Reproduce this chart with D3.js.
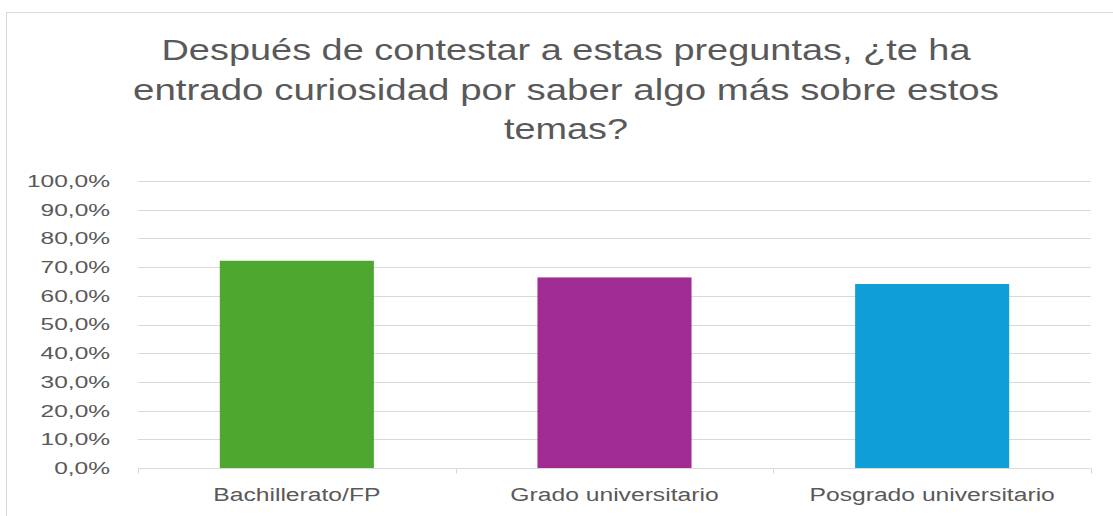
<!DOCTYPE html>
<html>
<head>
<meta charset="utf-8">
<script src="https://cdn.jsdelivr.net/npm/d3@7"></script>
<style>
  html, body { margin: 0; padding: 0; background: #fff; }
  svg text { font-family: "Liberation Sans", Arial, sans-serif; fill: #595959; }
</style>
</head>
<body>
<div id="chart"></div>
<script>
// datos del gráfico
const categories = ["Bachillerato/FP", "Grado universitario", "Posgrado universitario"];
const values = [0.722, 0.664, 0.641];
const barColors = ["#4EA72E", "#A02B93", "#0F9ED5"];
const yTicks = [0, 0.1, 0.2, 0.3, 0.4, 0.5, 0.6, 0.7, 0.8, 0.9, 1.0];
const titleLines = [
  "Después de contestar a estas preguntas, ¿te ha",
  "entrado curiosidad por saber algo más sobre estos",
  "temas?"
];

const W = 1113, H = 516;
const margin = {top: 181, right: 22, bottom: 48, left: 138};
const width = W - margin.left - margin.right,
      height = H - margin.top - margin.bottom;

const svg = d3.select("#chart")
  .append("svg")
    .attr("width", W)
    .attr("height", H);

// marco del área del gráfico (recortado a la derecha y abajo)
svg.append("rect")
  .attr("x", 6.5).attr("y", 12.5)
  .attr("width", W + 20).attr("height", H + 20)
  .attr("fill", "none")
  .attr("stroke", "#d9d9d9");

// estiramiento horizontal del texto, como en la imagen original
function stretch(sel, k) {
  sel.each(function() {
    const w = this.getComputedTextLength();
    d3.select(this).attr("textLength", w * k).attr("lengthAdjust", "spacingAndGlyphs");
  });
}

// título
const titleSizes = [809, 866, 124];
svg.append("g")
  .selectAll("text")
  .data(titleLines)
  .join("text")
    .attr("x", 566)
    .attr("y", (d, i) => 60 + i * 39.5)
    .attr("text-anchor", "middle")
    .style("font-size", "29px")
    .text(d => d)
    .each(function(d, i) {
      d3.select(this).attr("textLength", titleSizes[i]).attr("lengthAdjust", "spacingAndGlyphs");
    });

const g = svg.append("g")
  .attr("transform", `translate(${margin.left},${margin.top})`);

const x = d3.scaleBand()
  .domain(categories)
  .range([0, width])
  .paddingInner(0.515)
  .paddingOuter(0.2575);

const y = d3.scaleLinear()
  .domain([0, 1])
  .range([height, 0]);

const locale = d3.formatLocale({decimal: ",", thousands: ".", grouping: [3], currency: ["", "€"]});
const fmt = locale.format(".1%");

// líneas de división
g.append("g")
  .selectAll("line")
  .data(yTicks.filter(t => t > 0))
  .join("line")
    .attr("x1", 0).attr("x2", width)
    .attr("y1", d => Math.round(y(d)) + 0.5)
    .attr("y2", d => Math.round(y(d)) + 0.5)
    .attr("stroke", "#d9d9d9");

// eje Y (solo etiquetas)
const yAxis = g.append("g")
  .call(d3.axisLeft(y).tickValues(yTicks).tickFormat(fmt).tickSize(0).tickPadding(28));
yAxis.select(".domain").remove();
yAxis.selectAll("text")
  .style("font-size", "17px")
  .attr("fill", "#595959")
  .style("font-family", "Liberation Sans, Arial, sans-serif")
  .call(stretch, 1.44);

// barras
g.append("g")
  .selectAll("rect")
  .data(values)
  .join("rect")
    .attr("x", (d, i) => x(categories[i]))
    .attr("y", d => y(d))
    .attr("width", x.bandwidth())
    .attr("height", d => height - y(d))
    .attr("fill", (d, i) => barColors[i]);

// eje X
const base = Math.round(height) + 0.5;
g.append("line")
  .attr("x1", 0).attr("x2", width)
  .attr("y1", base).attr("y2", base)
  .attr("stroke", "#d9d9d9");

const edges = categories.map(c => x(c) - x.step() * x.paddingInner() / 2);
edges.push(width);
edges[0] = 0;
g.append("g")
  .selectAll("line")
  .data(edges)
  .join("line")
    .attr("x1", d => Math.round(d) + 0.5).attr("x2", d => Math.round(d) + 0.5)
    .attr("y1", base).attr("y2", base + 5)
    .attr("stroke", "#d9d9d9");

g.append("g")
  .selectAll("text")
  .data(categories)
  .join("text")
    .attr("x", d => x(d) + x.bandwidth() / 2)
    .attr("y", height + 33)
    .attr("text-anchor", "middle")
    .style("font-size", "18px")
    .text(d => d)
    .call(stretch, 1.37);
</script>
</body>
</html>
